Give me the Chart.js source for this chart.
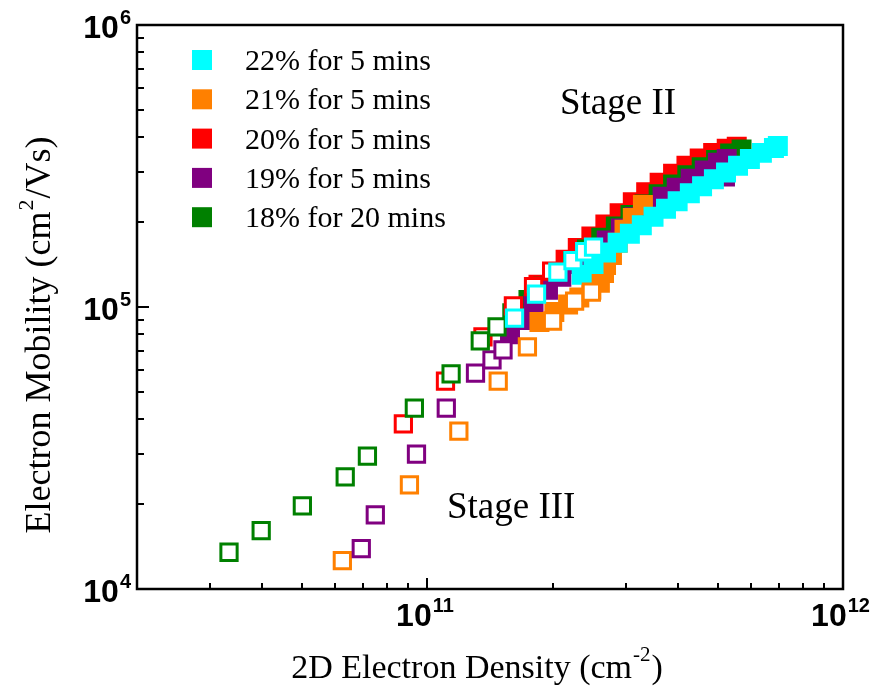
<!DOCTYPE html>
<html lang="en">
<head>
  <meta charset="UTF-8">
  <title>Electron Mobility vs 2D Electron Density</title>
  <script src="https://cdn.jsdelivr.net/npm/chart.js@4.4.0/dist/chart.umd.min.js"></script>
  <style>
    html, body { margin: 0; padding: 0; background: #fff; }
    #wrap { width: 879px; height: 700px; }
  </style>
</head>
<body>
  <div id="wrap"><canvas id="chart" width="879" height="700"></canvas></div>

  <script>
    // legend / series info
    const seriesNames = ["22% for 5 mins", "21% for 5 mins", "20% for 5 mins", "19% for 5 mins", "18% for 20 mins"];
    const seriesColors = ["#00FFFF", "#FF8000", "#FF0000", "#800080", "#008000"];

    // axis ranges and tick exponents
    const xRange = [2e10, 1e12];
    const yRange = [1e4, 1e6];
    const xTickExps = [11, 12];
    const yTickExps = [4, 5, 6];

    // open squares (low density, stage III)
    const open22X = [1.62e11, 1.83e11, 2.06e11, 2.24e11, 2.39e11, 2.51e11];
    const open22Y = [9.14e4, 1.11e5, 1.33e5, 1.46e5, 1.57e5, 1.63e5];
    const open21X = [6.24e10, 9.05e10, 1.19e11, 1.48e11, 1.74e11, 2.00e11, 2.26e11, 2.48e11];
    const open21Y = [1.26e4, 2.34e4, 3.63e4, 5.46e4, 7.22e4, 8.92e4, 1.05e5, 1.13e5];
    const open20X = [8.75e10, 1.105e11, 1.36e11, 1.61e11, 1.80e11, 1.99e11];
    const open20Y = [3.85e4, 5.46e4, 7.83e4, 1.01e5, 1.18e5, 1.34e5];
    const open19X = [6.93e10, 7.49e10, 9.41e10, 1.11e11, 1.305e11, 1.43e11, 1.52e11];
    const open19Y = [1.39e4, 1.83e4, 3.01e4, 4.38e4, 5.83e4, 6.49e4, 7.04e4];
    const open18X = [3.33e10, 3.98e10, 5.0e10, 6.34e10, 7.17e10, 9.30e10, 1.14e11, 1.34e11, 1.47e11];
    const open18Y = [1.35e4, 1.61e4, 1.97e4, 2.50e4, 2.96e4, 4.38e4, 5.79e4, 7.58e4, 8.50e4];

    // filled squares (high density, stage II)
    const fill22X = [2.35e11, 2.51e11, 2.69e11, 2.87e11, 3.07e11, 3.28e11, 3.50e11, 3.75e11, 4.00e11,
                     4.28e11, 4.58e11, 4.89e11, 5.23e11, 5.59e11, 5.97e11, 6.38e11, 6.82e11, 6.97e11];
    const fill22Y = [1.30e5, 1.42e5, 1.56e5, 1.69e5, 1.82e5, 1.95e5, 2.09e5, 2.23e5, 2.37e5,
                     2.53e5, 2.68e5, 2.84e5, 3.00e5, 3.17e5, 3.35e5, 3.52e5, 3.66e5, 3.72e5];
    const fill21X = [1.86e11, 2.02e11, 2.18e11, 2.32e11, 2.48e11, 2.60e11, 2.66e11, 2.69e11,
                     2.78e11, 2.87e11, 2.98e11, 3.12e11, 3.30e11];
    const fill21Y = [8.85e4, 9.60e4, 1.02e5, 1.08e5, 1.15e5, 1.22e5, 1.32e5, 1.41e5,
                     1.53e5, 1.69e5, 1.88e5, 2.07e5, 2.30e5];
    const fill20X = [1.85e11, 2.0e11, 2.15e11, 2.30e11, 2.48e11, 2.68e11, 2.90e11, 3.12e11, 3.36e11,
                     3.62e11, 3.90e11, 4.20e11, 4.52e11, 4.87e11, 5.25e11, 5.55e11];
    const fill20Y = [1.20e5, 1.33e5, 1.47e5, 1.62e5, 1.78e5, 1.96e5, 2.15e5, 2.35e5, 2.55e5,
                     2.76e5, 2.97e5, 3.17e5, 3.36e5, 3.52e5, 3.64e5, 3.70e5];
    const fill19X = [1.58e11, 1.68e11, 1.80e11, 1.95e11, 2.10e11, 2.28e11, 2.48e11, 2.70e11, 2.92e11,
                     3.15e11, 3.40e11, 3.68e11, 3.98e11, 4.30e11, 4.65e11, 5.00e11, 5.25e11, 5.20e11];
    const fill19Y = [8.0e4, 9.0e4, 1.02e5, 1.15e5, 1.28e5, 1.42e5, 1.56e5, 1.72e5, 1.90e5,
                     2.08e5, 2.27e5, 2.46e5, 2.65e5, 2.85e5, 3.05e5, 3.25e5, 3.35e5, 2.90e5];
    const fill18X = [1.60e11, 1.75e11, 1.90e11, 2.06e11, 2.24e11, 2.42e11, 2.62e11, 2.84e11, 3.08e11,
                     3.33e11, 3.60e11, 3.90e11, 4.22e11, 4.57e11, 4.95e11, 5.35e11, 5.70e11];
    const fill18Y = [9.5e4, 1.06e5, 1.18e5, 1.31e5, 1.45e5, 1.60e5, 1.76e5, 1.93e5, 2.12e5,
                     2.31e5, 2.51e5, 2.72e5, 2.93e5, 3.13e5, 3.32e5, 3.50e5, 3.62e5];

    const pts = (xs, ys) => xs.map((x, i) => ({ x: x, y: ys[i] }));

    function openSet(xs, ys, color) {
      return {
        data: pts(xs, ys), pointStyle: "rect", pointRadius: 11.5, pointHoverRadius: 11.5,
        borderWidth: 3, borderColor: color, backgroundColor: "#ffffff", showLine: false
      };
    }
    function fillSet(xs, ys, color) {
      return {
        data: pts(xs, ys), pointStyle: "rect", pointRadius: 12, pointHoverRadius: 12,
        borderWidth: 3, borderColor: color, backgroundColor: color, showLine: false
      };
    }

    // first dataset is drawn on top
    const datasets = [
      openSet(open22X, open22Y, seriesColors[0]),
      openSet(open18X, open18Y, seriesColors[4]),
      openSet(open20X, open20Y, seriesColors[2]),
      openSet(open19X, open19Y, seriesColors[3]),
      openSet(open21X, open21Y, seriesColors[1]),
      fillSet(fill22X, fill22Y, seriesColors[0]),
      fillSet(fill21X, fill21Y, seriesColors[1]),
      fillSet(fill19X, fill19Y, seriesColors[3]),
      fillSet(fill18X, fill18Y, seriesColors[4]),
      fillSet(fill20X, fill20Y, seriesColors[2])
    ];

    function drawPow(ctx, exp, x, y, align, size, supSize) {
      // "10" with a superscript exponent; y is the baseline of "10"
      ctx.font = "bold " + size + "px 'Liberation Sans', Arial, sans-serif";
      const wBase = ctx.measureText("10").width;
      ctx.font = "bold " + supSize + "px 'Liberation Sans', Arial, sans-serif";
      const wExp = ctx.measureText(String(exp)).width;
      let left = x;
      if (align === "center") left = x - (wBase + wExp) / 2;
      if (align === "right") left = x - wBase - wExp;
      ctx.textAlign = "left";
      ctx.textBaseline = "alphabetic";
      ctx.font = "bold " + size + "px 'Liberation Sans', Arial, sans-serif";
      ctx.fillText("10", left, y);
      ctx.font = "bold " + supSize + "px 'Liberation Sans', Arial, sans-serif";
      ctx.fillText(String(exp), left + wBase + 1, y - size * 0.45);
    }

    const axesPlugin = {
      id: "axesPlugin",
      afterDatasetsDraw(chart) {
        const ctx = chart.ctx;
        const a = chart.chartArea;
        const xs = chart.scales.x, ys = chart.scales.y;
        ctx.save();
        ctx.strokeStyle = "#000";
        ctx.fillStyle = "#000";

        // minor + major ticks, bottom axis
        ctx.lineWidth = 2;
        ctx.beginPath();
        for (let e = 10; e <= 11; e++) {
          for (let m = 1; m <= 9; m++) {
            const v = m * Math.pow(10, e);
            if (v < xRange[0] || v > xRange[1]) continue;
            const px = Math.round(xs.getPixelForValue(v));
            const len = m === 1 ? 11 : 6;
            ctx.moveTo(px, a.bottom);
            ctx.lineTo(px, a.bottom - len);
          }
        }
        // left axis
        for (let e = 4; e <= 5; e++) {
          for (let m = 1; m <= 9; m++) {
            const v = m * Math.pow(10, e);
            const py = Math.round(ys.getPixelForValue(v));
            const len = m === 1 ? 12 : 7;
            ctx.moveTo(a.left, py);
            ctx.lineTo(a.left + len, py);
          }
        }
        ctx.stroke();

        // frame
        ctx.lineWidth = 2.5;
        ctx.strokeRect(a.left, a.top, a.right - a.left, a.bottom - a.top);

        // tick labels
        yTickExps.forEach(e => {
          const py = ys.getPixelForValue(Math.pow(10, e));
          drawPow(ctx, e, 130, py + 13, "right", 32, 20);
        });
        xTickExps.forEach(e => {
          const px = xs.getPixelForValue(Math.pow(10, e));
          drawPow(ctx, e, px - 3, a.bottom + 37, "center", 32, 20);
        });

        // axis titles
        ctx.font = "34px 'Liberation Serif', 'Times New Roman', serif";
        ctx.textBaseline = "alphabetic";
        const t1 = "2D Electron Density (cm", t2 = ")";
        const w1 = ctx.measureText(t1).width, w2 = ctx.measureText(t2).width;
        ctx.font = "21px 'Liberation Serif', 'Times New Roman', serif";
        const wsup = ctx.measureText("-2").width;
        let x0 = 476 - (w1 + wsup + w2) / 2;
        ctx.textAlign = "left";
        ctx.font = "34px 'Liberation Serif', 'Times New Roman', serif";
        ctx.fillText(t1, x0, 678);
        ctx.font = "21px 'Liberation Serif', 'Times New Roman', serif";
        ctx.fillText("-2", x0 + w1 + 1, 661);
        ctx.font = "34px 'Liberation Serif', 'Times New Roman', serif";
        ctx.fillText(t2, x0 + w1 + wsup + 2, 678);

        ctx.save();
        ctx.translate(50, 336);
        ctx.rotate(-Math.PI / 2);
        const y1 = "Electron Mobility (cm", y2 = "/Vs)";
        ctx.font = "36px 'Liberation Serif', 'Times New Roman', serif";
        const wy1 = ctx.measureText(y1).width, wy2 = ctx.measureText(y2).width;
        ctx.font = "22px 'Liberation Serif', 'Times New Roman', serif";
        const wy2s = ctx.measureText("2").width;
        let s0 = -(wy1 + wy2s + wy2) / 2;
        ctx.font = "36px 'Liberation Serif', 'Times New Roman', serif";
        ctx.fillText(y1, s0, 0);
        ctx.font = "22px 'Liberation Serif', 'Times New Roman', serif";
        ctx.fillText("2", s0 + wy1 + 1, -17);
        ctx.font = "36px 'Liberation Serif', 'Times New Roman', serif";
        ctx.fillText(y2, s0 + wy1 + wy2s + 2, 0);
        ctx.restore();

        // legend
        ctx.font = "30px 'Liberation Serif', 'Times New Roman', serif";
        seriesNames.forEach((name, i) => {
          const cy = 60 + i * 39.3;
          ctx.fillStyle = seriesColors[i];
          ctx.fillRect(192, cy - 10, 20, 20);
          ctx.fillStyle = "#000";
          ctx.fillText(name, 245, cy + 10);
        });

        // stage labels
        ctx.font = "37px 'Liberation Serif', 'Times New Roman', serif";
        ctx.fillText("Stage II", 560, 114);
        ctx.fillText("Stage III", 447, 518);
        ctx.restore();
      }
    };

    new Chart(document.getElementById("chart"), {
      type: "scatter",
      data: { datasets: datasets },
      options: {
        responsive: false,
        animation: false,
        layout: { padding: { left: 137, right: 36, top: 25, bottom: 111 } },
        scales: {
          x: { type: "logarithmic", min: xRange[0], max: xRange[1], display: false },
          y: { type: "logarithmic", min: yRange[0], max: yRange[1], display: false }
        },
        plugins: { legend: { display: false }, tooltip: { enabled: false } }
      },
      plugins: [axesPlugin]
    });
  </script>
</body>
</html>
